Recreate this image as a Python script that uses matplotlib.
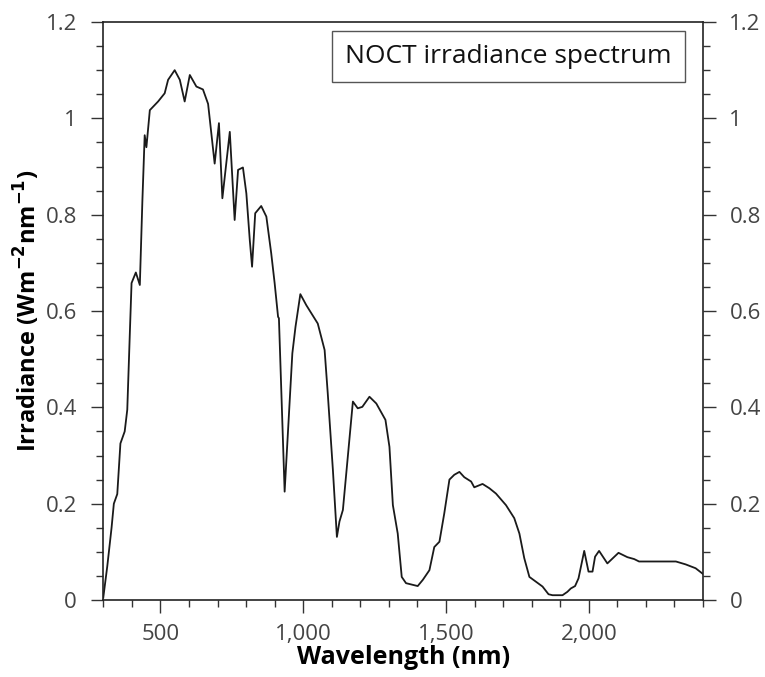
import matplotlib
matplotlib.use("Agg")
import matplotlib.pyplot as plt
from matplotlib.ticker import MultipleLocator, FuncFormatter

# NOCT irradiance spectrum
wavelength = [300, 314, 329, 337, 349, 360, 375, 384, 393, 399, 414, 428, 437, 445, 451,
              463, 492, 515, 527, 550, 568, 585, 603, 626, 649, 667, 690, 705, 717, 743,
              760, 772, 789, 801, 813, 821, 832, 853, 871, 888, 900, 912, 915, 935, 962,
              973, 990, 1011, 1051, 1075, 1086, 1104, 1118, 1127, 1139, 1174, 1191, 1207,
              1232, 1256, 1288, 1302, 1314, 1331, 1345, 1360, 1401, 1419, 1442, 1459, 1477,
              1494, 1512, 1529, 1547, 1564, 1588, 1599, 1628, 1652, 1675, 1710, 1739, 1757,
              1774, 1792, 1815, 1838, 1859, 1873, 1908, 1925, 1937, 1952, 1964, 1984, 1999,
              2013, 2022, 2036, 2065, 2104, 2135, 2159, 2176, 2305, 2339, 2374, 2400]
irradiance = [0.005, 0.07, 0.15, 0.20, 0.22, 0.325, 0.35, 0.395, 0.554, 0.658, 0.68, 0.654,
              0.83, 0.965, 0.94, 1.017, 1.035, 1.052, 1.08, 1.10, 1.08, 1.035, 1.09, 1.066,
              1.06, 1.03, 0.906, 0.99, 0.834, 0.972, 0.789, 0.893, 0.898, 0.844, 0.747,
              0.692, 0.803, 0.818, 0.796, 0.72, 0.658, 0.588, 0.585, 0.225, 0.512, 0.567,
              0.635, 0.612, 0.574, 0.519, 0.429, 0.27, 0.131, 0.163, 0.187, 0.412, 0.398,
              0.401, 0.422, 0.408, 0.374, 0.318, 0.197, 0.138, 0.048, 0.035, 0.029, 0.042,
              0.062, 0.11, 0.121, 0.18, 0.25, 0.26, 0.266, 0.255, 0.246, 0.234, 0.241, 0.232,
              0.221, 0.197, 0.17, 0.138, 0.087, 0.048, 0.038, 0.028, 0.012, 0.010, 0.010,
              0.017, 0.024, 0.029, 0.045, 0.102, 0.059, 0.059, 0.09, 0.102, 0.076, 0.098,
              0.089, 0.085, 0.08, 0.08, 0.074, 0.066, 0.054]

plt.rcParams['font.family'] = ['Open Sans', 'DejaVu Sans']

fig = plt.figure(figsize=(7.65, 6.77), dpi=100)
ax = fig.add_axes([0.135, 0.1137, 0.784, 0.8538])

ax.plot(wavelength, irradiance, color='#1a1a1a', linewidth=1.3)

ax.set_xlim(300, 2400)
ax.set_ylim(0, 1.2)

ax.xaxis.set_major_locator(MultipleLocator(500))
ax.xaxis.set_minor_locator(MultipleLocator(100))
ax.yaxis.set_major_locator(MultipleLocator(0.2))
ax.yaxis.set_minor_locator(MultipleLocator(0.05))
ax.xaxis.set_major_formatter(FuncFormatter(lambda v, p: f'{v:,.0f}'))
ax.yaxis.set_major_formatter(FuncFormatter(lambda v, p: f'{v:g}'))

ax.tick_params(which='both', direction='out', color='#333333', width=1,
               left=True, right=True, labelright=True, top=False,
               labelsize=16, labelcolor='#444444')
ax.tick_params(which='major', length=9)
ax.tick_params(which='minor', length=5)
ax.tick_params(axis='y', which='major', pad=10)
ax.tick_params(axis='x', which='major', pad=8)
for s in ax.spines.values():
    s.set_color('#222222')
    s.set_linewidth(1.2)

ax.set_xlabel('Wavelength (nm)', fontsize=18, fontweight='bold', labelpad=0)
ax.set_ylabel(r'Irradiance (Wm$^{\mathbf{-2}}$nm$^{\mathbf{-1}}$)', fontsize=17,
              fontweight='bold', labelpad=2)

ax.text(0.948, 0.940, 'NOCT irradiance spectrum', transform=ax.transAxes,
        ha='right', va='center', fontsize=19, color='#111111',
        bbox=dict(boxstyle='square,pad=0.5', facecolor='white',
                  edgecolor='#555555', linewidth=1))

fig.savefig('out.png', dpi=100)
